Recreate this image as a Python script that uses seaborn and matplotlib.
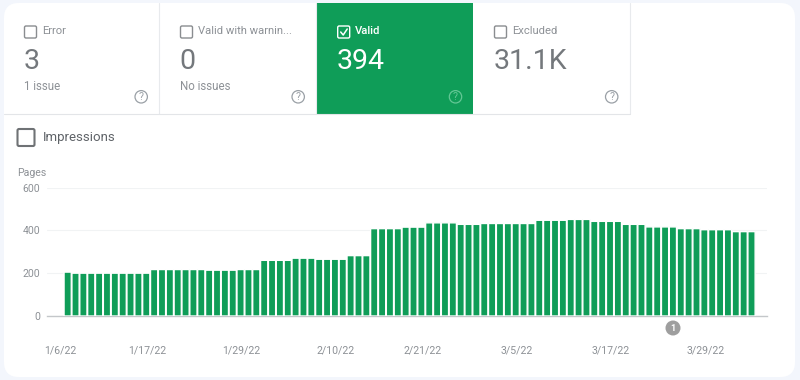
import pandas as pd
import matplotlib.pyplot as plt
import seaborn as sns
from matplotlib.patches import Circle, FancyBboxPatch, Rectangle

# pages per day
run_values = [205, 200, 217, 214, 217, 260, 270, 265, 282, 408, 415, 435, 428, 432,
              447, 451, 442, 428, 416, 408, 403, 394]
run_lengths = [1, 10, 7, 4, 3, 4, 3, 4, 3, 4, 3, 4, 3, 7, 4, 3, 4, 3, 4, 3, 4, 3]
start_date = "2022-01-06"
tick_labels = ["1/6/22", "1/17/22", "1/29/22", "2/10/22", "2/21/22", "3/5/22", "3/17/22", "3/29/22"]
tick_index = [0, 11, 23, 35, 46, 58, 70, 82]
y_ticks = [0, 200, 400, 600]
tab_titles = ["Error", "Valid with warnin...", "Valid", "Excluded"]
tab_values = ["3", "0", "394", "31.1K"]
tab_notes = ["1 issue", "No issues", "", ""]

GREEN = "#0f9d58"
GREY = "#8d9196"
DARK = "#5f6368"
NUMBER = "#74787c"
W, H = 800, 380


def checkbox(ax, x, y, size, color, lw=1.0):
    ax.add_patch(FancyBboxPatch((x + 1, y + 1), size - 2, size - 2, boxstyle="round,pad=0,rounding_size=1.5",
                                fc="none", ec=color, lw=lw))


def help_icon(ax, x, y, color):
    ax.add_patch(Circle((x, y), 6.2, fc="none", ec=color, lw=0.9))
    ax.text(x, y + 0.3, "?", color=color, fontsize=7.5, ha="center", va="center")


def draw_chrome(ax):
    ax.set_xlim(0, W)
    ax.set_ylim(H, 0)
    ax.axis("off")
    ax.add_patch(FancyBboxPatch((4, 3), 791, 374, boxstyle="round,pad=0,rounding_size=15", fc="white", ec="none"))

    tab_left = [4, 159.5, 316.7, 473.5]
    tab_right = [159, 316, 473.3, 629.5]
    for i, title in enumerate(tab_titles):
        x0, x1 = tab_left[i], tab_right[i]
        selected = title == "Valid"
        if selected:
            ax.add_patch(Rectangle((x0, 3), x1 - x0, 111, fc=GREEN, ec="none"))
        else:
            ax.plot([x1 + 0.2, x1 + 0.2], [3, 114], color="#e8eaed", lw=0.8)
        text_x = x0 + 20.5 if i else 24
        box_color = "white" if selected else "#8a8d90"
        checkbox(ax, text_x - 0.5, 25, 14, box_color)
        if selected:
            ax.plot([text_x + 3.5, text_x + 6, text_x + 10], [32, 35, 29], color="white", lw=1.1)
        ax.text(text_x + 18, 31.3, title, color="white" if selected else GREY, fontsize=8.1,
                fontweight="medium" if selected else "normal", va="center")
        ax.text(text_x - 0.5, 61.5, tab_values[i], color="white" if selected else NUMBER, fontsize=20.5, va="center")
        ax.text(text_x, 87, tab_notes[i], color=GREY, fontsize=8.3, va="center")
        help_icon(ax, x1 - 17.8, 96.8, "#63c795" if selected else "#9aa0a6")
    ax.plot([4, 630], [114.2, 114.2], color="#e3e5e8", lw=0.8)

    checkbox(ax, 16.5, 128, 19, "#6f7275", lw=1.5)
    ax.text(43, 137.5, "Impressions", color=DARK, fontsize=9.5, va="center")
    ax.text(17, 173, "Pages", color=GREY, fontsize=7.6, va="center")

    # annotation badge under the axis
    ax.add_patch(Circle((673, 328), 7.5, fc="#9e9e9e", ec="none"))
    ax.text(673, 328.3, "1", color="white", fontsize=6.5, fontweight="bold", ha="center", va="center")


def main():
    values = []
    for value, length in zip(run_values, run_lengths):
        values += [value] * length
    df = pd.DataFrame({"day": pd.date_range(start_date, periods=len(values)), "pages": values})
    df["pos"] = range(len(df))

    sns.set_theme(style="white")
    plt.rcParams["font.family"] = ["Roboto", "DejaVu Sans"]

    fig = plt.figure(figsize=(W / 100, H / 100), dpi=100, facecolor="#f3f6fc")
    bg = fig.add_axes([0, 0, 1, 1], zorder=0)
    draw_chrome(bg)

    left, right, top, bottom = 47, 767, 187.5, 316
    ax = fig.add_axes([left / W, 1 - bottom / H, (right - left) / W, (bottom - top) / H], zorder=1)
    ax.patch.set_alpha(0)
    sns.barplot(data=df, x="pos", y="pages", color=GREEN, saturation=1, width=0.92, ax=ax, zorder=3)
    # no pixel snapping, so the gaps stay soft and even
    for bar in ax.patches:
        bar.set_snap(False)
    ax.set_xlim(-2.63, 88.97)
    ax.set_ylim(0, 600)
    ax.set_xlabel("")
    ax.set_ylabel("")
    ax.set_yticks(y_ticks)
    ax.set_xticks([i - 0.9 for i in tick_index])
    ax.set_xticklabels(tick_labels)
    ax.tick_params(axis="both", length=0, colors=GREY, labelsize=7.6)
    ax.tick_params(axis="x", pad=21)
    ax.tick_params(axis="y", pad=5)
    ax.grid(axis="y", color="#f1f3f4", lw=0.8, zorder=0)
    ax.grid(axis="x", visible=False)
    sns.despine(ax=ax, left=True, top=True, right=True)
    ax.spines["bottom"].set_color("#c4c7ca")
    ax.spines["bottom"].set_linewidth(1.0)

    fig.savefig("out.png", dpi=100, facecolor=fig.get_facecolor())
    plt.close(fig)


if __name__ == "__main__":
    main()
